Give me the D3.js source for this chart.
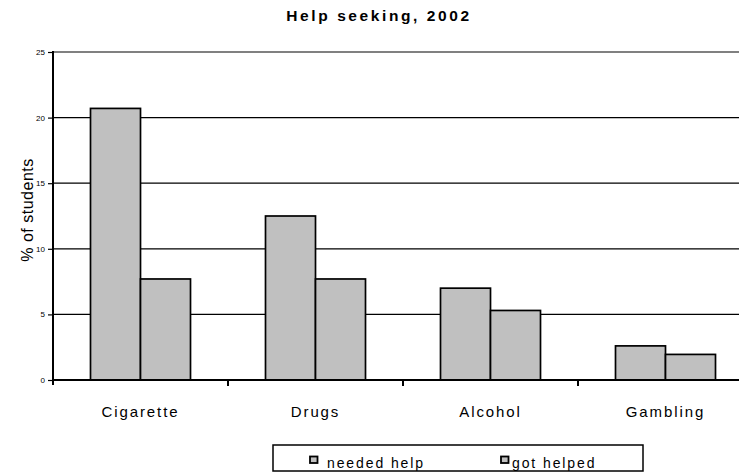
<!DOCTYPE html>
<html><head><meta charset="utf-8">
<script src="https://cdn.jsdelivr.net/npm/d3@7"></script>
<style>body{margin:0;background:#fff}svg{display:block}text{font-family:Arial,"Liberation Sans",sans-serif}</style>
</head><body>
<script>
const categories = ["Cigarette", "Drugs", "Alcohol", "Gambling"];
const seriesNames = ["needed help", "got helped"];
const neededHelp = [20.7, 12.5, 7.0, 2.6];
const gotHelped = [7.7, 7.7, 5.3, 1.95];
const yTicks = [0, 5, 10, 15, 20, 25];
const title = "Help seeking, 2002";
const yTitle = "% of students";

const W = 739, H = 472;
const svg = d3.select("body").append("svg").attr("width", W).attr("height", H);

const x = d3.scaleBand().domain(categories).range([53, 753]).padding(0);
const xs = d3.scaleBand().domain(seriesNames).range([37.5, 137.5]).padding(0);
const y = d3.scaleLinear().domain([0, 25]).range([380, 52]);

// title
svg.append("text").attr("x", 379).attr("y", 21).attr("text-anchor", "middle")
  .style("font-size", "15.5px").style("font-weight", "bold").style("letter-spacing", "2.6px")
  .text(title);

// gridlines
svg.append("g").selectAll("line").data(yTicks.filter(d => d > 0)).join("line")
  .attr("x1", 53).attr("x2", 753).attr("y1", d => y(d)).attr("y2", d => y(d))
  .attr("stroke", d => d === 25 ? "#808080" : "#000")
  .attr("stroke-width", d => d === 25 ? 2 : 1.2);

// bars
const data = [];
categories.forEach((c, i) => {
  data.push({c, s: seriesNames[0], v: neededHelp[i]});
  data.push({c, s: seriesNames[1], v: gotHelped[i]});
});
svg.append("g").selectAll("rect").data(data).join("rect")
  .attr("x", d => x(d.c) + xs(d.s))
  .attr("y", d => y(d.v))
  .attr("width", xs.bandwidth())
  .attr("height", d => y(0) - y(d.v))
  .attr("fill", "#c0c0c0").attr("stroke", "#000").attr("stroke-width", 1.7);

// y axis
const yAxis = svg.append("g").attr("transform", "translate(53,0)")
  .call(d3.axisLeft(y).tickValues(yTicks).tickSize(5).tickPadding(3));
yAxis.select(".domain").remove();
yAxis.selectAll(".tick line").attr("stroke", "#000").attr("stroke-width", 1.2);
yAxis.selectAll(".tick text").style("font-size", "8px").style("font-family", "Arial, 'Liberation Sans', sans-serif").attr("fill", "#000");
svg.append("line").attr("x1", 53).attr("x2", 53).attr("y1", 51).attr("y2", 385)
  .attr("stroke", "#000").attr("stroke-width", 2);

// x axis
const xAxis = svg.append("g").attr("transform", "translate(0,380)")
  .call(d3.axisBottom(x).tickSize(0).tickPadding(26));
xAxis.select(".domain").remove();
xAxis.selectAll(".tick text").style("font-size", "15px").style("letter-spacing", "1.9px")
  .style("font-family", "Arial, 'Liberation Sans', sans-serif").attr("fill", "#000");
svg.append("line").attr("x1", 52).attr("x2", 753).attr("y1", y(0)).attr("y2", y(0))
  .attr("stroke", "#000").attr("stroke-width", 2.2);
svg.append("g").selectAll("line").data(categories.slice(1)).join("line")
  .attr("x1", d => x(d)).attr("x2", d => x(d)).attr("y1", 380).attr("y2", 386)
  .attr("stroke", "#000").attr("stroke-width", 2);

// y title
svg.append("text").attr("transform", "translate(33,210) rotate(-90)").attr("text-anchor", "middle")
  .style("font-size", "16px").style("letter-spacing", "0.5px").text(yTitle);

// legend
const lg = svg.append("g");
lg.append("rect").attr("x", 273).attr("y", 445).attr("width", 370).attr("height", 26)
  .attr("fill", "#fff").attr("stroke", "#000").attr("stroke-width", 1.5);
const legX = [310, 501];
seriesNames.forEach((s, i) => {
  lg.append("rect").attr("x", legX[i]).attr("y", 456.5).attr("width", 7.5).attr("height", 6.5)
    .attr("fill", "#c0c0c0").attr("stroke", "#000").attr("stroke-width", 1.8);
  lg.append("text").attr("x", legX[i] + 17 - (i ? 6 : 0)).attr("y", 468)
    .style("font-size", "14px").style("letter-spacing", "1.9px").text(s);
});
</script>
</body></html>
